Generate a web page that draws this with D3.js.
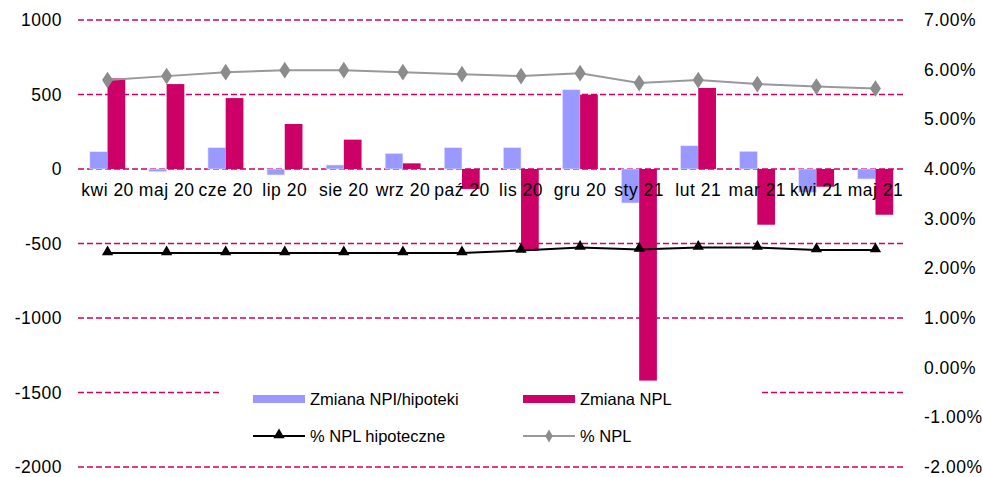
<!DOCTYPE html>
<html>
<head>
<meta charset="utf-8">
<script src="https://cdn.jsdelivr.net/npm/d3@7"></script>
<style>
    body { margin: 0; background: #fff; }
    text { font-family: "Liberation Sans", Arial, sans-serif; fill: #000; }
</style>
</head>
<body>
<div id="chart"></div>
<script>
// data
const months = ['kwi 20', 'maj 20', 'cze 20', 'lip 20', 'sie 20', 'wrz 20', 'paź 20',
    'lis 20', 'gru 20', 'sty 21', 'lut 21', 'mar 21', 'kwi 21', 'maj 21'];
const changeMortgageNpl = [116, -18, 143, -40, 27, 105, 143, 143, 532, -228, 156, 119, -156, -67];
const changeNpl = [608, 570, 476, 302, 197, 38, -134, -548, 499, -1420, 544, -374, -119, -307];
const pctNplMortgage = [2.31, 2.31, 2.31, 2.31, 2.31, 2.31, 2.31, 2.36, 2.42, 2.38, 2.42, 2.42, 2.37, 2.37];
const pctNpl = [5.79, 5.87, 5.95, 5.99, 5.99, 5.95, 5.91, 5.87, 5.93, 5.73, 5.79, 5.71, 5.66, 5.62];
const leftTicks = [1000, 500, 0, -500, -1000, -1500, -2000];
const rightTicks = [7, 6, 5, 4, 3, 2, 1, 0, -1, -2];

const W = 983, H = 477;
const plot = { left: 78, right: 905, top: 20, bottom: 467 };

const svg = d3.select('#chart').append('svg')
    .attr('width', W)
    .attr('height', H);

const x = d3.scaleBand().domain(months).range([plot.left, plot.right]).padding(0);
const yL = d3.scaleLinear().domain([-2000, 1000]).range([plot.bottom, plot.top]);
const yR = d3.scaleLinear().domain([-2, 7]).range([plot.bottom, plot.top]);
const bw = x.bandwidth() * 0.3;
const cx = d => x(d) + x.bandwidth() / 2;

// dashed grid lines
svg.append('g').selectAll('line')
    .data(leftTicks)
    .enter().append('line')
    .attr('x1', plot.left).attr('x2', plot.right)
    .attr('y1', d => yL(d)).attr('y2', d => yL(d))
    .attr('stroke', '#CC0066')
    .attr('stroke-width', 1.5)
    .attr('stroke-dasharray', '6,3');

// bars
svg.append('g').selectAll('rect')
    .data(months)
    .enter().append('rect')
    .attr('x', (d, i) => cx(d) - bw)
    .attr('y', (d, i) => yL(Math.max(0, changeMortgageNpl[i])))
    .attr('width', bw)
    .attr('height', (d, i) => Math.abs(yL(changeMortgageNpl[i]) - yL(0)))
    .attr('fill', '#9999FF')
    .attr('stroke', '#e6e6ff')
    .attr('stroke-width', 0.6);

svg.append('g').selectAll('rect')
    .data(months)
    .enter().append('rect')
    .attr('x', d => cx(d))
    .attr('y', (d, i) => yL(Math.max(0, changeNpl[i])))
    .attr('width', bw)
    .attr('height', (d, i) => Math.abs(yL(changeNpl[i]) - yL(0)))
    .attr('fill', '#CC0066');

// lines on the right axis
const lineNpl = d3.line().x((d, i) => cx(months[i])).y(d => yR(d));

svg.append('path')
    .datum(pctNpl)
    .attr('d', lineNpl)
    .attr('fill', 'none')
    .attr('stroke', '#999999')
    .attr('stroke-width', 2);

svg.append('g').selectAll('path')
    .data(pctNpl)
    .enter().append('path')
    .attr('d', d3.symbol().type(d3.symbolDiamond).size(80))
    .attr('transform', (d, i) => `translate(${cx(months[i])},${yR(d)}) scale(1.15,1)`)
    .attr('fill', '#8c8c8c');

svg.append('path')
    .datum(pctNplMortgage)
    .attr('d', lineNpl)
    .attr('fill', 'none')
    .attr('stroke', '#000')
    .attr('stroke-width', 2);

svg.append('g').selectAll('path')
    .data(pctNplMortgage)
    .enter().append('path')
    .attr('d', d3.symbol().type(d3.symbolTriangle).size(55))
    .attr('transform', (d, i) => `translate(${cx(months[i])},${yR(d) - 1})`)
    .attr('fill', '#000');

// axes
const leftAxis = svg.append('g')
    .attr('transform', `translate(${plot.left},0)`)
    .call(d3.axisLeft(yL).tickValues(leftTicks).tickSize(0).tickPadding(16)
        .tickFormat(d => String(d)));

const rightAxis = svg.append('g')
    .attr('transform', `translate(${plot.right},0)`)
    .call(d3.axisRight(yR).tickValues(rightTicks).tickSize(0).tickPadding(19)
        .tickFormat(d => d.toFixed(2) + '%'));

const xAxis = svg.append('g')
    .attr('transform', `translate(0,${yL(0)})`)
    .call(d3.axisBottom(x).tickSize(0).tickPadding(15));

[leftAxis, rightAxis, xAxis].forEach(g => {
    g.select('.domain').remove();
    g.selectAll('text')
        .style('font-family', '"Liberation Sans", Arial, sans-serif')
        .style('font-size', '17.5px')
        .style('letter-spacing', '0.5px')
        .attr('fill', '#000');
});

// legend
const legend = svg.append('g');
legend.append('rect')
    .attr('x', 220).attr('y', 381)
    .attr('width', 542).attr('height', 76)
    .attr('fill', '#fff');

const legendItems = [
    { label: 'Zmiana NPI/hipoteki', type: 'bar', color: '#9999FF', x: 253, y: 399 },
    { label: 'Zmiana NPL', type: 'bar', color: '#CC0066', x: 523, y: 399 },
    { label: '% NPL hipoteczne', type: 'tri', color: '#000', x: 253, y: 436 },
    { label: '% NPL', type: 'dia', color: '#999999', x: 523, y: 436 }
];

legendItems.forEach(item => {
    if (item.type === 'bar') {
        legend.append('rect')
            .attr('x', item.x).attr('y', item.y - 4)
            .attr('width', 52).attr('height', 8)
            .attr('fill', item.color);
    } else {
        legend.append('line')
            .attr('x1', item.x).attr('x2', item.x + 52)
            .attr('y1', item.y).attr('y2', item.y)
            .attr('stroke', item.color)
            .attr('stroke-width', 2);
        legend.append('path')
            .attr('d', d3.symbol()
                .type(item.type === 'tri' ? d3.symbolTriangle : d3.symbolDiamond)
                .size(item.type === 'tri' ? 55 : 50))
            .attr('transform', `translate(${item.x + 26},${item.y - (item.type === 'tri' ? 1 : 0)})`)
            .attr('fill', item.type === 'tri' ? '#000' : '#8c8c8c');
    }
    legend.append('text')
        .attr('x', item.x + 57)
        .attr('y', item.y)
        .attr('dy', '0.36em')
        .style('font-size', '16.5px')
        .text(item.label);
});
</script>
</body>
</html>
